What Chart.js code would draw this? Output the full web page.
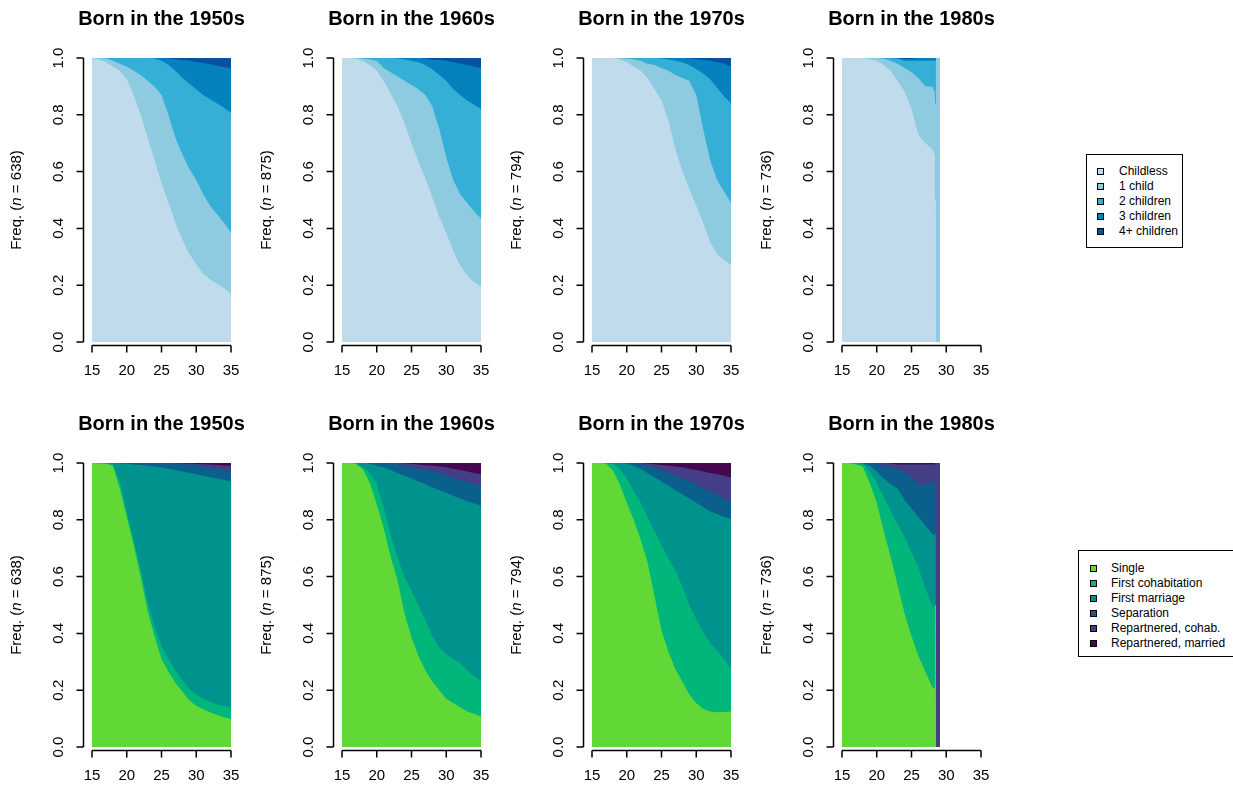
<!DOCTYPE html>
<html lang="en">
<head>
<meta charset="UTF-8">
<title>Fertility and union trajectories by birth cohort</title>
<script src="https://cdn.jsdelivr.net/npm/chart.js@4.4.1/dist/chart.umd.min.js"></script>
<style>
  body { margin:0; background:#fff; width:1233px; height:787px; overflow:hidden; position:relative;
         font-family:"Liberation Sans", Arial, Helvetica, sans-serif; }
  canvas.panel { position:absolute; }
  .legend { position:absolute; border:1px solid #000; background:#fff; font-size:12px; color:#000; }
  .legend .item { position:absolute; white-space:nowrap; height:14px; line-height:14px; }
  .legend .key { position:absolute; top:4px; width:5px; height:5px; border:1px solid #000; }
</style>
</head>
<body>

<canvas class="panel" id="f50" width="250" height="400" style="left:0;top:0"></canvas>
<canvas class="panel" id="f60" width="250" height="400" style="left:250px;top:0"></canvas>
<canvas class="panel" id="f70" width="250" height="400" style="left:500px;top:0"></canvas>
<canvas class="panel" id="f80" width="250" height="400" style="left:750px;top:0"></canvas>
<canvas class="panel" id="u50" width="250" height="400" style="left:0;top:405px"></canvas>
<canvas class="panel" id="u60" width="250" height="400" style="left:250px;top:405px"></canvas>
<canvas class="panel" id="u70" width="250" height="400" style="left:500px;top:405px"></canvas>
<canvas class="panel" id="u80" width="250" height="400" style="left:750px;top:405px"></canvas>

<div class="legend" id="legFert" style="left:1086px;top:154px;width:95px;height:92px"></div>
<div class="legend" id="legUnion" style="left:1078px;top:550px;width:170px;height:105px"></div>

<script>
// ages (years) at which the state distribution was read
const ages = [15,16,17,18,19,20,21,22,23,24,25,26,27,28,29,30,31,32,33,34,35];
// the 1980s cohort is only observed up to about age 29
const ages80 = [15,16,17,18,19,20,21,22,23,24,25,26,27,28,28.35,28.37,28.5,28.52,29.1];

const xTicks = [15,20,25,30,35];
const yTicks = [0,0.2,0.4,0.6,0.8,1];

const fertStates = ['Childless','1 child','2 children','3 children','4+ children'];
const fertColors = ['#c0dcec','#8ecae0','#36afd6','#0581be','#08519c'];
const unionStates = ['Single','First cohabitation','First marriage','Separation','Repartnered, cohab.','Repartnered, married'];
const unionColors = ['#61d836','#00b67a','#00928c','#0b5f8c','#433e85','#45084f'];

const cohorts = ['Born in the 1950s','Born in the 1960s','Born in the 1970s','Born in the 1980s'];
const cohortN = [638, 875, 794, 736];

// cumulative share of people in state 0..k (fertility)
const fert50_0 = [1,0.995,0.985,0.97,0.955,0.925,0.87,0.80,0.72,0.64,0.56,0.49,0.42,0.36,0.31,0.275,0.24,0.22,0.205,0.19,0.17];
const fert50_1 = [1,1,0.998,0.99,0.98,0.97,0.955,0.94,0.92,0.90,0.87,0.80,0.72,0.66,0.61,0.57,0.52,0.48,0.45,0.42,0.385];
const fert50_2 = [1,1,1,1,1,1,1,1,1,0.998,0.99,0.975,0.955,0.93,0.91,0.89,0.87,0.855,0.84,0.825,0.807];
const fert50_3 = [1,1,1,1,1,1,1,1,1,1,1,0.998,0.996,0.993,0.99,0.986,0.982,0.978,0.973,0.968,0.963];

const fert60_0 = [1,1,0.997,0.99,0.975,0.955,0.92,0.875,0.83,0.77,0.70,0.635,0.575,0.51,0.44,0.385,0.32,0.27,0.235,0.21,0.195];
const fert60_1 = [1,1,1,0.998,0.995,0.99,0.965,0.95,0.935,0.92,0.905,0.89,0.87,0.83,0.75,0.65,0.57,0.52,0.49,0.46,0.435];
const fert60_2 = [1,1,1,1,1,1,1,1,0.998,0.995,0.99,0.985,0.975,0.96,0.94,0.92,0.89,0.87,0.85,0.835,0.82];
const fert60_3 = [1,1,1,1,1,1,1,1,1,1,1,1,0.998,0.995,0.993,0.99,0.985,0.98,0.975,0.97,0.965];

const fert70_0 = [1,1,1,1,0.995,0.985,0.97,0.955,0.93,0.89,0.85,0.78,0.68,0.60,0.54,0.48,0.42,0.35,0.31,0.29,0.27];
const fert70_1 = [1,1,1,1,1,0.998,0.995,0.99,0.98,0.975,0.965,0.955,0.94,0.93,0.92,0.87,0.75,0.64,0.57,0.53,0.49];
const fert70_2 = [1,1,1,1,1,1,1,1,1,1,0.998,0.995,0.99,0.985,0.975,0.96,0.945,0.925,0.895,0.865,0.84];
const fert70_3 = [1,1,1,1,1,1,1,1,1,1,1,1,1,1,0.998,0.996,0.993,0.99,0.985,0.98,0.97];

const fert80_0 = [1,1,1,1,0.995,0.99,0.975,0.955,0.92,0.88,0.82,0.73,0.70,0.68,0.66,0.50,0.50,0,0];
const fert80_1 = [1,1,1,1,1,1,0.997,0.99,0.98,0.965,0.95,0.93,0.90,0.90,0.88,0.84,0.84,1,1];
const fert80_2 = [1,1,1,1,1,1,1,1,0.997,0.99,0.99,0.99,0.99,0.99,0.99,0.99,0.99,1,1];
const fert80_3 = [1,1,1,1,1,1,1,1,1,0.996,0.997,1,1,1,1,1,1,1,1];

// cumulative share of people in state 0..k (unions)
const union50_0 = [1,0.998,0.997,0.99,0.91,0.81,0.71,0.60,0.48,0.39,0.31,0.265,0.225,0.195,0.165,0.145,0.133,0.122,0.113,0.105,0.098];
const union50_1 = [1,1,0.999,0.995,0.935,0.83,0.73,0.625,0.51,0.425,0.355,0.31,0.27,0.235,0.205,0.185,0.17,0.16,0.15,0.145,0.14];
const union50_2 = [1,1,1,1,0.998,0.997,0.995,0.993,0.99,0.988,0.985,0.98,0.975,0.97,0.965,0.96,0.955,0.95,0.945,0.94,0.935];
const union50_3 = [1,1,1,1,1,1,1,1,1,1,1,1,0.998,0.996,0.994,0.992,0.988,0.984,0.98,0.976,0.972];
const union50_4 = [1,1,1,1,1,1,1,1,1,1,1,1,1,0.999,0.998,0.997,0.996,0.995,0.993,0.991,0.99];

const union60_0 = [1,1,0.998,0.978,0.93,0.855,0.77,0.67,0.585,0.47,0.385,0.32,0.27,0.23,0.20,0.17,0.155,0.14,0.125,0.117,0.107];
const union60_1 = [1,0.999,0.995,0.985,0.965,0.925,0.845,0.745,0.665,0.60,0.55,0.50,0.445,0.39,0.35,0.325,0.31,0.295,0.27,0.25,0.233];
const union60_2 = [1,1,1,1,0.998,0.99,0.985,0.975,0.965,0.955,0.945,0.935,0.925,0.915,0.905,0.895,0.885,0.875,0.865,0.858,0.85];
const union60_3 = [1,1,1,1,1,1,1,0.998,0.995,0.99,0.985,0.98,0.975,0.97,0.965,0.955,0.945,0.94,0.935,0.925,0.92];
const union60_4 = [1,1,1,1,1,1,1,1,1,0.999,0.997,0.995,0.992,0.99,0.988,0.985,0.98,0.975,0.97,0.965,0.96];

const union70_0 = [1,1,0.998,0.975,0.925,0.86,0.80,0.73,0.65,0.53,0.41,0.335,0.275,0.23,0.185,0.155,0.135,0.125,0.122,0.123,0.125];
const union70_1 = [1,1,1,0.997,0.98,0.945,0.90,0.86,0.81,0.76,0.71,0.665,0.62,0.565,0.50,0.45,0.405,0.365,0.34,0.31,0.275];
const union70_2 = [1,1,1,1,1,0.998,0.99,0.98,0.965,0.95,0.935,0.92,0.905,0.89,0.875,0.86,0.845,0.83,0.82,0.81,0.805];
const union70_3 = [1,1,1,1,1,1,0.998,0.995,0.99,0.985,0.975,0.965,0.955,0.945,0.935,0.925,0.91,0.90,0.89,0.875,0.865];
const union70_4 = [1,1,1,1,1,1,1,1,0.998,0.996,0.993,0.99,0.988,0.985,0.98,0.975,0.97,0.965,0.96,0.955,0.95];

const union80_0 = [1,1,0.995,0.987,0.93,0.86,0.76,0.67,0.57,0.47,0.39,0.32,0.265,0.21,0.205,0.5,0.5,0,0];
const union80_1 = [1,1,1,0.998,0.97,0.93,0.88,0.83,0.785,0.74,0.685,0.63,0.56,0.495,0.49,0.5,0.5,0,0];
const union80_2 = [1,1,1,0.998,0.99,0.97,0.945,0.925,0.91,0.87,0.84,0.81,0.78,0.75,0.745,0.75,0.75,0,0];
const union80_3 = [1,1,1,1,1,0.998,0.99,0.985,0.98,0.965,0.95,0.925,0.92,0.935,0.93,0.95,0.95,0,0];
const union80_4 = [1,1,1,1,1,1,1,0.998,0.995,0.995,0.995,0.995,0.995,0.995,0.995,1,1,1,1];

const FONT = '"Liberation Sans", Arial, Helvetica, sans-serif';

// R-like axes, title and y label drawn from the chart's own scales
const rAxes = {
  id: 'rAxes',
  afterDraw(chart, args, opts) {
    const ctx = chart.ctx, xs = chart.scales.x, ys = chart.scales.y;
    const x0 = xs.getPixelForValue(xTicks[0]), x1 = xs.getPixelForValue(xTicks[xTicks.length - 1]);
    const y0 = ys.getPixelForValue(0), y1 = ys.getPixelForValue(1);
    ctx.save();
    ctx.strokeStyle = '#000';
    ctx.fillStyle = '#000';
    ctx.lineWidth = 1.5;

    // x axis
    const ax = Math.round(y0) + 3.5;
    ctx.beginPath();
    ctx.moveTo(x0, ax); ctx.lineTo(x1, ax);
    xTicks.forEach(v => { const px = xs.getPixelForValue(v); ctx.moveTo(px, ax); ctx.lineTo(px, ax + 7); });
    ctx.stroke();
    ctx.font = '15px ' + FONT;
    ctx.textAlign = 'center';
    ctx.textBaseline = 'middle';
    xTicks.forEach(v => ctx.fillText(String(v), xs.getPixelForValue(v), ax + 25));

    // y axis
    const ay = Math.round(x0) - 8.5;
    ctx.beginPath();
    ctx.moveTo(ay, y0); ctx.lineTo(ay, y1);
    yTicks.forEach(v => { const py = ys.getPixelForValue(v); ctx.moveTo(ay, py); ctx.lineTo(ay - 7, py); });
    ctx.stroke();
    yTicks.forEach(v => {
      ctx.save();
      ctx.translate(ay - 24.5, ys.getPixelForValue(v));
      ctx.rotate(-Math.PI / 2);
      ctx.fillText(v.toFixed(1), 0, 0);
      ctx.restore();
    });

    // y label: Freq. (n = ...), n in italics
    const parts = [['Freq. (', '15px '], ['n', 'italic 15px '], [' = ' + opts.n + ')', '15px ']];
    let total = 0;
    parts.forEach(p => { ctx.font = p[1] + FONT; total += ctx.measureText(p[0]).width; });
    ctx.save();
    ctx.translate(ay - 66.5, (y0 + y1) / 2);
    ctx.rotate(-Math.PI / 2);
    ctx.textAlign = 'left';
    let pos = -total / 2;
    parts.forEach(p => { ctx.font = p[1] + FONT; ctx.fillText(p[0], pos, 0); pos += ctx.measureText(p[0]).width; });
    ctx.restore();

    // title
    ctx.font = 'bold 20px ' + FONT;
    ctx.textAlign = 'center';
    ctx.fillText(opts.title, (x0 + x1) / 2, y1 - 39);
    ctx.restore();
  }
};

function drawPanel(id, title, n, x, bounds, colors) {
  const pts = arr => arr.map((v, i) => ({ x: x[i], y: v }));
  const datasets = bounds.map((b, k) => ({
    label: k,
    data: pts(b),
    backgroundColor: colors[k],
    fill: 'origin'
  }));
  // top state: everything above the first boundary, painted over by the lower states
  datasets.push({ label: bounds.length, data: pts(bounds[0]), backgroundColor: colors[bounds.length], fill: 'end' });

  new Chart(document.getElementById(id), {
    type: 'line',
    data: { datasets: datasets },
    options: {
      responsive: false,
      animation: false,
      layout: { padding: { left: 92, right: 19, top: 58, bottom: 58 } },
      elements: { line: { borderWidth: 0, tension: 0 }, point: { radius: 0 } },
      scales: {
        x: { type: 'linear', min: 15, max: 35, display: false },
        y: { min: 0, max: 1, display: false }
      },
      plugins: {
        legend: { display: false },
        tooltip: { enabled: false },
        rAxes: { title: title, n: n }
      }
    },
    plugins: [rAxes]
  });
}

drawPanel('f50', cohorts[0], cohortN[0], ages, [fert50_0, fert50_1, fert50_2, fert50_3], fertColors);
drawPanel('f60', cohorts[1], cohortN[1], ages, [fert60_0, fert60_1, fert60_2, fert60_3], fertColors);
drawPanel('f70', cohorts[2], cohortN[2], ages, [fert70_0, fert70_1, fert70_2, fert70_3], fertColors);
drawPanel('f80', cohorts[3], cohortN[3], ages80, [fert80_0, fert80_1, fert80_2, fert80_3], fertColors);
drawPanel('u50', cohorts[0], cohortN[0], ages, [union50_0, union50_1, union50_2, union50_3, union50_4], unionColors);
drawPanel('u60', cohorts[1], cohortN[1], ages, [union60_0, union60_1, union60_2, union60_3, union60_4], unionColors);
drawPanel('u70', cohorts[2], cohortN[2], ages, [union70_0, union70_1, union70_2, union70_3, union70_4], unionColors);
drawPanel('u80', cohorts[3], cohortN[3], ages80, [union80_0, union80_1, union80_2, union80_3, union80_4], unionColors);

// legends
function buildLegend(elId, labels, colors, top0, keyLeft, textLeft) {
  const box = document.getElementById(elId);
  labels.forEach((lab, i) => {
    const row = document.createElement('div');
    row.className = 'item';
    row.style.top = (top0 + 15 * i - 7) + 'px';
    row.style.left = keyLeft + 'px';
    const key = document.createElement('span');
    key.className = 'key';
    key.style.left = '0px';
    key.style.background = colors[i];
    const txt = document.createElement('span');
    txt.style.position = 'absolute';
    txt.style.left = (textLeft - keyLeft) + 'px';
    txt.textContent = lab;
    row.appendChild(key);
    row.appendChild(txt);
    box.appendChild(row);
  });
}
buildLegend('legFert', fertStates, fertColors, 16, 10, 32);
buildLegend('legUnion', unionStates, unionColors, 17, 11, 32);
</script>
</body>
</html>
